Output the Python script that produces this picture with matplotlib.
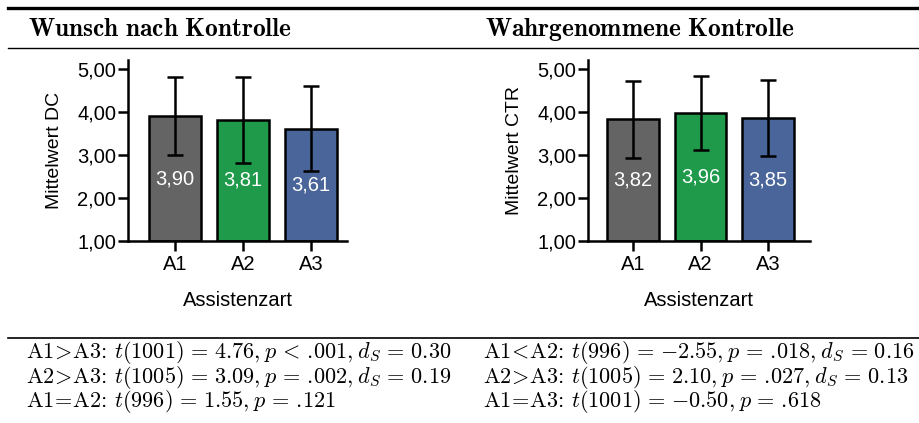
import matplotlib
matplotlib.use("Agg")
import matplotlib.pyplot as plt
from matplotlib.lines import Line2D
from matplotlib.ticker import FuncFormatter

plt.rcParams['font.family'] = ['Liberation Sans', 'DejaVu Sans']
plt.rcParams['mathtext.fontset'] = 'cm'

groups = ["A1", "A2", "A3"]
colors = ["#646464", "#1e9a4a", "#4a6599"]

# Wunsch nach Kontrolle (DC)
dc_mean = [3.90, 3.81, 3.61]
dc_sd = [0.91, 0.99, 0.98]

# Wahrgenommene Kontrolle (CTR)
ctr_mean = [3.82, 3.96, 3.85]
ctr_sd = [0.90, 0.86, 0.88]

titles = ["Wunsch nach Kontrolle", "Wahrgenommene Kontrolle"]
ylabels = ["Mittelwert DC", "Mittelwert CTR"]

stats_left = [
    r"$\mathrm{A1}\!>\!\mathrm{A3}\!:\,t(1001) = 4.76, p < .\!001, d_S = 0.30$",
    r"$\mathrm{A2}\!>\!\mathrm{A3}\!:\,t(1005) = 3.09, p = .\!002, d_S = 0.19$",
    r"$\mathrm{A1}\!=\!\mathrm{A2}\!:\,t(996) = 1.55, p = .\!121$",
]
stats_right = [
    r"$\mathrm{A1}\!<\!\mathrm{A2}\!:\,t(996) = {-2.55}, p = .\!018, d_S = 0.16$",
    r"$\mathrm{A2}\!>\!\mathrm{A3}\!:\,t(1005) = 2.10, p = .\!027, d_S = 0.13$",
    r"$\mathrm{A1}\!=\!\mathrm{A3}\!:\,t(1001) = {-0.50}, p = .\!618$",
]


def widen(s):
    # a bit more room around relations and commas in the statistics lines
    for rel in [" = ", " < "]:
        s = s.replace(rel, r"\hspace{0.14}" + rel.strip() + r"\hspace{0.14}")
    return s.replace(", ", r",\hspace{0.05}")


W, H = 920, 423
fig = plt.figure(figsize=(W / 100, H / 100), dpi=100)


def fx(px):
    return px / W


def fy(py):
    return 1 - py / H


# table rules
fig.add_artist(Line2D([fx(8), 1], [fy(8.5), fy(8.5)], color="black", lw=2.4))
fig.add_artist(Line2D([fx(8), 1], [fy(48), fy(48)], color="black", lw=1.0))
fig.add_artist(Line2D([fx(8), 1], [fy(337.5), fy(337.5)], color="black", lw=1.2))

panels = [
    (128, 347, (-0.69, 2.53), dc_mean, dc_sd, 29, stats_left),
    (588, 810, (-0.67, 2.62), ctr_mean, ctr_sd, 486, stats_right),
]

for i, (x0, x1, xlim, means, sds, tx, stats) in enumerate(panels):
    fig.text(fx(tx - 1), fy(36), r"$\mathbf{" + titles[i].replace(" ", r"\ ") + "}$",
             fontsize=18.3, va="baseline", ha="left")
    for k, line in enumerate(stats):
        fig.text(fx(tx - 3), fy(358 + 24.5 * k), widen(line), fontsize=16,
                 va="baseline", ha="left")

    ax = fig.add_axes([fx(x0), fy(241), fx(x1 - x0), (241 - 60) / H])
    xs = list(range(len(groups)))
    heights = [m - 1 for m in means]
    ax.bar(xs, heights, bottom=1, width=0.765, color=colors,
           edgecolor="black", linewidth=1.8, zorder=2)
    ax.errorbar(xs, means, yerr=sds, fmt="none", ecolor="black",
                elinewidth=1.8, capsize=6, capthick=1.8, zorder=3)
    for x, m in zip(xs, means):
        ax.text(x, 1 + (m - 1) / 2, f"{m:.2f}".replace(".", ","),
                ha="center", va="center", color="white", fontsize=14.5, zorder=4)

    ax.set_xlim(*xlim)
    ax.set_ylim(1, 5.2)
    ax.set_yticks([1, 2, 3, 4, 5])
    ax.yaxis.set_major_formatter(FuncFormatter(lambda v, p: f"{v:.2f}".replace(".", ",")))
    ax.set_xticks(xs)
    ax.set_xticklabels(groups)
    for s in ["top", "right"]:
        ax.spines[s].set_visible(False)
    for s in ["left", "bottom"]:
        ax.spines[s].set_linewidth(1.8)
    ax.tick_params(axis="y", length=7, width=1.8, pad=1.5, labelsize=14.5)
    ax.tick_params(axis="x", length=7, width=1.8, pad=3, labelsize=14.5)
    ax.set_ylabel(ylabels[i], fontsize=14, labelpad=10)
    ax.set_xlabel("Assistenzart", fontsize=14.5, labelpad=12)

fig.savefig("out.png", dpi=100)
